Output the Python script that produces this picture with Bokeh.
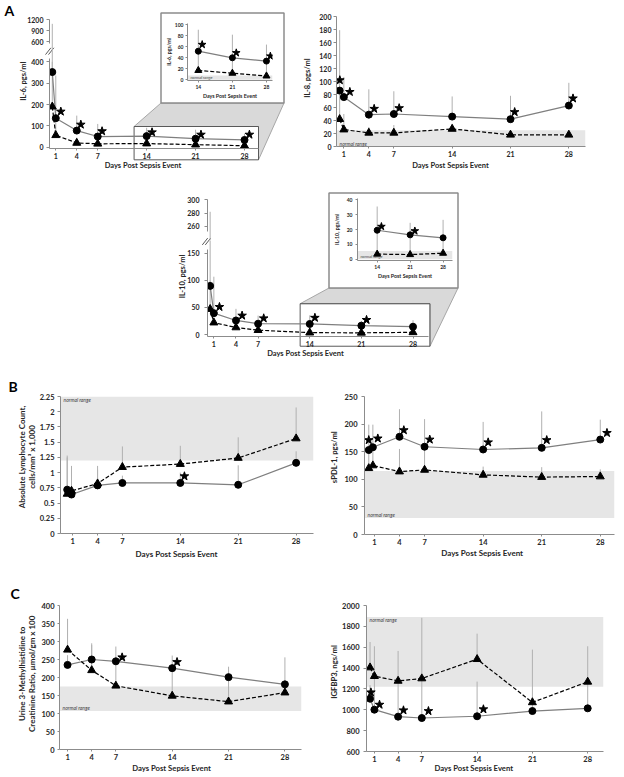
import math
from bokeh.plotting import figure
from bokeh.models import Range1d, FixedTicker, Label, NumeralTickFormatter
from bokeh.embed import file_html
from bokeh.resources import INLINE

# ------------------------------------------------------------------ data
XTICKS = [1, 4, 7, 14, 21, 28]
X_TITLE = "Days Post Sepsis Event"

# IL-6
IL6_DAYS = [0.5, 1, 4, 7, 14, 21, 28]
IL6_CIRC = [352, 136, 78, 50, 52, 40, 34]
IL6_CIRC_UP = [1090, 336, 148, 109, 91, 82, 64]
IL6_TRI = [190, 56, 20, 16, 17, 12, 7]
IL6_TRI_UP = [400, 150, 45, 31, 50, 38, 30]
IL6_STAR_X = [1.72, 4.58, 7.62, 14.77, 21.77, 28.7]
IL6_STAR_Y = [167, 106, 75, 70, 59, 59]
IL6_INSET_STAR_X = [14.8, 21.8, 28.8]
IL6_INSET_STAR_Y = [64, 49, 43]
IL6_NORMAL = (0, 8)

# IL-8
IL8_DAYS = [0.5, 1, 4, 7, 14, 21, 28]
IL8_CIRC = [86, 76, 49, 50, 46, 42, 63]
IL8_CIRC_UP = [179, 107, 88, 85, 77, 78, 98]
IL8_TRI = [42, 26, 21, 21, 27, 18, 18]
IL8_TRI_UP = [80, 50, 30, 33, 35, 24, 22]
IL8_STAR_X = [0.52, 1.72, 4.64, 7.64, 21.5, 28.5]
IL8_STAR_Y = [102, 84, 58, 59, 53, 74]
IL8_NORMAL = (0, 25)

# IL-10
IL10_DAYS = [0.5, 1, 4, 7, 14, 21, 28]
IL10_CIRC = [90, 39.5, 26, 20, 19.5, 16.4, 14.4]
IL10_CIRC_UP = [282, 107, 47.5, 35, 35.5, 24.5, 26.5]
IL10_TRI = [47, 22, 13, 8, 3.4, 3.1, 4]
IL10_TRI_UP = [100, 35, 22, 16, 19, 16, 14]
IL10_STAR_X = [1.76, 4.83, 7.76, 14.7, 21.7]
IL10_STAR_Y = [51, 35, 30, 31, 27]
IL10_INSET_STAR_X = [14.9, 22.0]
IL10_INSET_STAR_Y = [22, 19]
IL10_NORMAL = (0, 5.5)

# Absolute lymphocyte count
LYM_DAYS = [0.33, 0.85, 4, 7, 14, 21, 28]
LYM_CIRC = [0.72, 0.64, 0.79, 0.83, 0.83, 0.80, 1.16]
LYM_CIRC_UP = [1.28, 1.11, 1.05, 0.95, 1.0, 1.12, 1.35]
LYM_TRI = [0.65, 0.70, 0.82, 1.09, 1.14, 1.24, 1.56]
LYM_TRI_UP = [1.25, 1.10, 1.11, 1.43, 1.44, 1.58, 2.07]
LYM_STAR_X = [14.5]
LYM_STAR_Y = [0.94]
LYM_NORMAL = (1.2, 2.25)

# sPDL-1
PDL_DAYS = [0.33, 0.82, 4, 7, 14, 21, 28]
PDL_CIRC = [153, 158, 177, 159, 154, 157, 172]
PDL_CIRC_UP = [199, 199, 227, 209, 204, 223, 208]
PDL_TRI = [120, 125, 114, 117, 108, 104, 105]
PDL_TRI_UP = [150, 158, 155, 159, 123, 122, 118]
PDL_STAR_X = [0.33, 1.41, 4.52, 7.62, 14.6, 21.6, 28.8]
PDL_STAR_Y = [171, 174, 189, 172, 167, 171, 184]
PDL_NORMAL = (30, 115)

# Urine 3-methylhistidine / creatinine
MH_DAYS = [1, 4, 7, 14, 21, 28]
MH_CIRC = [235, 250, 245, 226, 201, 181]
MH_CIRC_UP = [262, 295, 286, 261, 230, 256]
MH_TRI = [277, 220, 177, 149, 133, 158]
MH_TRI_UP = [363, 290, 245, 226, 201, 181]
MH_STAR_X = [7.78, 14.6]
MH_STAR_Y = [256, 243]
MH_NORMAL = (107, 175)

# IGFBP3
IGF_DAYS = [0.45, 1, 4, 7, 14, 21, 28]
IGF_CIRC = [1106, 1001, 934, 921, 938, 988, 1014]
IGF_CIRC_UP = [1236, 1330, 1280, 1300, 1270, 1075, 1270]
IGF_TRI = [1405, 1322, 1277, 1300, 1485, 1071, 1268]
IGF_TRI_UP = [1650, 1609, 1564, 1882, 1730, 1577, 1609]
IGF_STAR_X = [0.56, 1.65, 4.68, 7.84, 14.8]
IGF_STAR_Y = [1167, 1049, 995, 988, 1005]
IGF_NORMAL = (1220, 1890)

# axis titles of the main panels: (text lines, centre x, centre y, vertical?, font size)
AXIS_TITLES = [
    (["IL-6, pgs/ml"], 23, 80.7, True, "7.5px"),
    ([X_TITLE], 142.5, 165, False, "7.5px"),
    (["IL-8, pgs/ml"], 307.3, 77.5, True, "7.5px"),
    ([X_TITLE], 450, 165, False, "7.5px"),
    (["IL-10, pgs/ml"], 181.7, 276, True, "7.5px"),
    ([X_TITLE], 305, 352.7, False, "7.5px"),
    (["Absolute Lymphocyte Count,", "cells/mm\u00b3 x 1,000"], 26.7, 456.5, True, "8px"),
    ([X_TITLE], 176, 553.3, False, "8px"),
    (["sPDL-1, pgs/ml"], 333.3, 456.7, True, "7.7px"),
    ([X_TITLE], 481.7, 552.7, False, "8px"),
    (["Urine 3-Methylhistidine to", "Creatinine Ratio, \u00b5mol/gm x 100"], 26.7, 673.3, True, "8px"),
    ([X_TITLE], 171, 767.3, False, "7.7px"),
    (["IGFBP3, ngs/ml"], 333.3, 671.5, True, "7.7px"),
    ([X_TITLE], 473.3, 767.3, False, "7.7px"),
]

# ------------------------------------------------------------------ styles
FONT = "Lato"
TXT = "#262626"
AXC = "#8c8c8c"
ERRC = "#b0b0b0"
SOLIDC = "#7f7f7f"
BANDC = "#e6e6e6"

ITEMS = []   # (model, rect in page px)
FRAMES = {}  # name -> (frame, xr, yr)


def make_fig(name, frame, xr, yr, pad, xaxis=True, yaxis=True, opaque=False):
    x0, y0, x1, y1 = frame
    L, T, R, B = pad
    p = figure(width=x1 - x0 + L + R, height=y1 - y0 + T + B,
               x_range=Range1d(*xr), y_range=Range1d(*yr),
               x_axis_type="linear" if xaxis else None,
               y_axis_type="linear" if yaxis else None,
               title=None, toolbar_location=None, output_backend="svg",
               min_border_left=L, min_border_top=T,
               min_border_right=R, min_border_bottom=B)
    p.xgrid.visible = False
    p.ygrid.visible = False
    p.outline_line_color = None
    if opaque:
        p.background_fill_color = "white"
        p.border_fill_color = "white"
    else:
        p.background_fill_alpha = 0
        p.border_fill_alpha = 0
    ITEMS.append((p, (x0 - L, y0 - T, x1 + R, y1 + B)))
    FRAMES[name] = (frame, xr, yr)
    return p


def style_axes(p, yticks, tick_fs, title_fs="5.3px", ytitle=None, xtitle=None,
               ytick_out=3, ystand=3, ytstand=2, xtick_out=2, xstand=2, xtstand=1,
               xticks=XTICKS, ybounds=None, yfmt=None):
    for ax in list(p.xaxis) + list(p.yaxis):
        ax.axis_line_color = AXC
        ax.major_tick_line_color = AXC
        ax.minor_tick_line_color = None
        ax.major_tick_in = 0
        ax.major_label_text_font = FONT
        ax.major_label_text_font_style = "bold"
        ax.major_label_text_font_size = tick_fs
        ax.major_label_text_color = TXT
        ax.axis_label_text_font = FONT
        ax.axis_label_text_font_style = "bold"
        ax.axis_label_text_font_size = title_fs
        ax.axis_label_text_color = TXT
    for ax in p.yaxis:
        ax.ticker = FixedTicker(ticks=yticks)
        ax.major_tick_out = ytick_out
        ax.major_label_standoff = ystand
        ax.axis_label_standoff = ytstand
        if ytitle:
            ax.axis_label = ytitle
        if ybounds:
            ax.bounds = ybounds
        if yfmt:
            ax.formatter = yfmt
    for ax in p.xaxis:
        ax.ticker = FixedTicker(ticks=xticks)
        ax.major_tick_out = xtick_out
        ax.major_label_standoff = xstand
        ax.axis_label_standoff = xtstand
        if xtitle:
            ax.axis_label = xtitle


def draw_series(p, days, c, c_up, t, t_up, sx=None, sy=None, ms=7, ss=9):
    p.segment(x0=days, y0=c, x1=days, y1=c_up, line_color=ERRC, line_width=1)
    p.segment(x0=days, y0=t, x1=days, y1=t_up, line_color=ERRC, line_width=1)
    p.line(days, c, line_color=SOLIDC, line_width=1.2)
    p.line(days, t, line_color="black", line_width=1.2, line_dash="4 2")
    p.scatter(days, c, marker="circle", size=ms, fill_color="black", line_color="black")
    p.scatter(days, t, marker="triangle", size=ms + 1, fill_color="black", line_color="black")
    if sx:
        p.scatter(sx, sy, marker="star", size=ss, fill_color="black", line_color="black")


def draw_errors_only(p, days, c, c_up, t, t_up):
    p.segment(x0=days, y0=c, x1=days, y1=c_up, line_color=ERRC, line_width=1)
    p.segment(x0=days, y0=t, x1=days, y1=t_up, line_color=ERRC, line_width=1)


def band(p, xr, rng, where, fs="5px"):
    p.quad(left=xr[0], right=xr[1], bottom=rng[0], top=rng[1],
           fill_color=BANDC, line_color=None)
    y = rng[0] if where == "bottom" else rng[1]
    p.add_layout(Label(x=xr[0], y=y, x_offset=3, text="normal range",
                       text_font=FONT, text_font_style="italic", text_font_size=fs,
                       text_color="#404040",
                       text_baseline="bottom" if where == "bottom" else "top"))


# decor canvas (page coordinates), drawn beneath everything
decor = figure(width=616, height=776, x_range=Range1d(0, 616), y_range=Range1d(776, 0),
               x_axis_type=None, y_axis_type=None, title=None, toolbar_location=None,
               output_backend="svg", min_border_left=0, min_border_right=0,
               min_border_top=0, min_border_bottom=0)
decor.outline_line_color = None
decor.background_fill_color = "white"
decor.border_fill_color = "white"
ITEMS.append((decor, (0, 0, 616, 776)))

# ------------------------------------------------------------------ panel A: IL-6
XR_IL6 = (0.1, 30)
p = make_fig("il6_up", (49, 12, 258, 50), XR_IL6, (363, 1399), (41, 4, 4, 0), xaxis=False)
style_axes(p, [600, 900, 1200], "7px", ybounds=(560, 1200))
draw_errors_only(p, IL6_DAYS, IL6_CIRC, IL6_CIRC_UP, IL6_TRI, IL6_TRI_UP)

p = make_fig("il6", (49, 50, 258, 148), XR_IL6, (-6, 453), (41, 0, 4, 24))
style_axes(p, [0, 100, 200, 300, 400], "7px", ybounds=(-6, 415))
draw_series(p, IL6_DAYS, IL6_CIRC, IL6_CIRC_UP, IL6_TRI, IL6_TRI_UP, IL6_STAR_X, IL6_STAR_Y)

# ------------------------------------------------------------------ panel A: IL-8
XR_IL8 = (0.12, 30)
p = make_fig("il8", (336, 16, 585, 146), XR_IL8, (0, 200), (36, 8, 31, 26))
style_axes(p, list(range(0, 201, 20)), "7px", ystand=2)
band(p, XR_IL8, IL8_NORMAL, "bottom")
draw_series(p, IL8_DAYS, IL8_CIRC, IL8_CIRC_UP, IL8_TRI, IL8_TRI_UP, IL8_STAR_X, IL8_STAR_Y)

# ------------------------------------------------------------------ panel A: IL-10
XR_IL10 = (0.14, 30.1)
p = make_fig("il10_up", (207, 195, 428, 240), XR_IL10, (239, 306.4), (33, 5, 4, 0), xaxis=False)
style_axes(p, [260, 280, 300], "7px", ystand=5, ybounds=(252, 300))
draw_errors_only(p, IL10_DAYS, IL10_CIRC, IL10_CIRC_UP, IL10_TRI, IL10_TRI_UP)

p = make_fig("il10", (207, 240, 428, 336), XR_IL10, (-3.7, 174), (33, 0, 4, 24))
style_axes(p, [0, 50, 100, 150], "7px", ystand=5, ybounds=(-3.7, 157))
draw_series(p, IL10_DAYS, IL10_CIRC, IL10_CIRC_UP, IL10_TRI, IL10_TRI_UP,
            IL10_STAR_X, IL10_STAR_Y)

# ------------------------------------------------------------------ panel B
XR_LYM = (-0.48, 30.1)
p = make_fig("lym", (60, 396, 313, 533), XR_LYM, (0, 2.25), (52, 31, 5, 27))
style_axes(p, [0, 0.25, 0.5, 0.75, 1, 1.25, 1.5, 1.75, 2, 2.25], "7.5px",
           ystand=3, yfmt=NumeralTickFormatter(format="0.[00]"))
band(p, XR_LYM, LYM_NORMAL, "top")
draw_series(p, LYM_DAYS, LYM_CIRC, LYM_CIRC_UP, LYM_TRI, LYM_TRI_UP, LYM_STAR_X, LYM_STAR_Y)

XR_PDL = (-0.18, 29.7)
p = make_fig("pdl", (364, 396, 614, 534), XR_PDL, (0, 250), (44, 31, 2, 26))
style_axes(p, [0, 50, 100, 150, 200, 250], "7.5px", ystand=4)
band(p, XR_PDL, PDL_NORMAL, "bottom")
draw_series(p, PDL_DAYS, PDL_CIRC, PDL_CIRC_UP, PDL_TRI, PDL_TRI_UP, PDL_STAR_X, PDL_STAR_Y)

# ------------------------------------------------------------------ panel C
XR_MH = (0, 30.06)
p = make_fig("mh", (59, 605, 301, 749), XR_MH, (0, 400), (51, 40, 5, 26))
style_axes(p, list(range(0, 401, 50)), "7.5px", ytick_out=2, ystand=3)
band(p, XR_MH, MH_NORMAL, "bottom")
draw_series(p, MH_DAYS, MH_CIRC, MH_CIRC_UP, MH_TRI, MH_TRI_UP, MH_STAR_X, MH_STAR_Y)

XR_IGF = (0, 30)
p = make_fig("igf", (366, 605, 603, 751), XR_IGF, (600, 2000), (46, 40, 13, 24))
style_axes(p, list(range(600, 2001, 200)), "7.5px", ystand=4)
band(p, XR_IGF, IGF_NORMAL, "top")
draw_series(p, IGF_DAYS, IGF_CIRC, IGF_CIRC_UP, IGF_TRI, IGF_TRI_UP, IGF_STAR_X, IGF_STAR_Y)

# ------------------------------------------------------------------ insets (on top)
IL6_IN_XR = (11.78, 29.24)
p = make_fig("il6_in", (183, 23, 272, 81), IL6_IN_XR, (-1.25, 102.3), (21, 9, 10, 20), opaque=True)
style_axes(p, [0, 20, 40, 60, 80, 100], "5px", "5.3px", ytitle="IL-6, pgs/ml",
           xtitle=X_TITLE, ytick_out=2, ystand=2, ytstand=0, xtick_out=2, xstand=2,
           xtstand=1, xticks=[14, 21, 28])
band(p, IL6_IN_XR, IL6_NORMAL, "bottom", fs="4px")
draw_series(p, IL6_DAYS[4:], IL6_CIRC[4:], IL6_CIRC_UP[4:], IL6_TRI[4:], IL6_TRI_UP[4:],
            IL6_INSET_STAR_X, IL6_INSET_STAR_Y, ms=6, ss=8)
il6_in_rect = ITEMS[-1][1]

IL10_IN_XR = (9.82, 30.0)
p = make_fig("il10_in", (354, 198, 452, 260), IL10_IN_XR, (-0.9, 40.9), (24, 4, 4, 26), opaque=True)
style_axes(p, [0, 10, 20, 30, 40], "5px", "5.3px", ytitle="IL-10, pgs/ml",
           xtitle=X_TITLE, ytick_out=2, ystand=3, ytstand=4, xtick_out=2, xstand=2,
           xtstand=1, xticks=[14, 21, 28])
band(p, IL10_IN_XR, IL10_NORMAL, "bottom", fs="4px")
draw_series(p, IL10_DAYS[4:], IL10_CIRC[4:], IL10_CIRC_UP[4:], IL10_TRI[4:], IL10_TRI_UP[4:],
            IL10_INSET_STAR_X, IL10_INSET_STAR_Y, ms=6, ss=8)
il10_in_rect = ITEMS[-1][1]


# ------------------------------------------------------------------ decor: zoom boxes etc.
def to_px(name, d, v):
    (x0, y0, x1, y1), xr, yr = FRAMES[name]
    return (x0 + (d - xr[0]) / (xr[1] - xr[0]) * (x1 - x0),
            y1 - (v - yr[0]) / (yr[1] - yr[0]) * (y1 - y0))


def zoom_decor(main, inset_rect, box_days, box_vals):
    bx0, by0 = to_px(main, box_days[0], box_vals[1])
    bx1, by1 = to_px(main, box_days[1], box_vals[0])
    ix0, iy0, ix1, iy1 = (inset_rect[0] - 1.5, inset_rect[1] - 1.5,
                          inset_rect[2] + 1.5, inset_rect[3] + 1.5)
    decor.patch([bx0, ix0, ix1, bx1, bx1], [by0, iy1, iy1, by1, by0],
                fill_color="#d9d9d9", line_color="#a6a6a6", line_width=1)
    decor.quad(left=bx0, right=bx1, top=by0, bottom=by1, fill_color=None,
               line_color="#595959", line_width=1)
    decor.quad(left=ix0, right=ix1, top=iy0, bottom=iy1, fill_color="white",
               line_color="#8c8c8c", line_width=1.5)


def break_marks(cx, cy):
    for d in (-1.5, 1.5):
        decor.segment(x0=cx + d - 2.7, y0=cy + 3.4, x1=cx + d + 2.7, y1=cy - 3.4,
                      line_color="#595959", line_width=1)


zoom_decor("il6", il6_in_rect, (12.2, 30), (-59, 97))
zoom_decor("il10", il10_in_rect, (12.7, 30.3), (-21.7, 57))
break_marks(FRAMES["il6"][0][0] + 0.2, FRAMES["il6"][0][1] + 0.7)
break_marks(FRAMES["il10"][0][0] - 1, FRAMES["il10"][0][1] + 1)

# axis titles of the main panels
for lines, cx, cy, vertical, fs in AXIS_TITLES:
    n = len(lines)
    step = 10 if vertical else 9
    for i, line in enumerate(lines):
        off = (i - (n - 1) / 2) * step
        decor.add_layout(Label(
            x=cx + off if vertical else cx, y=cy if vertical else cy + off,
            text=line, angle=math.pi / 2 if vertical else 0,
            text_font=FONT, text_font_style="bold", text_font_size=fs, text_color=TXT,
            text_align="center", text_baseline="middle"))

for txt, x, y in (("A", 4, 10), ("B", 8, 386), ("C", 10, 592.5)):
    decor.add_layout(Label(x=x, y=y, text=txt, text_font=FONT, text_font_style="bold",
                           text_font_size="14px", text_color="black",
                           text_baseline="middle", text_align="left"))

# ------------------------------------------------------------------ absolute placement
roots = []
for m, (x0, y0, x1, y1) in ITEMS:
    m.styles = {"position": "absolute", "left": f"{x0}px", "top": f"{y0}px"}
    roots.append(m)

open("out.html", "w").write(file_html(roots, INLINE))
